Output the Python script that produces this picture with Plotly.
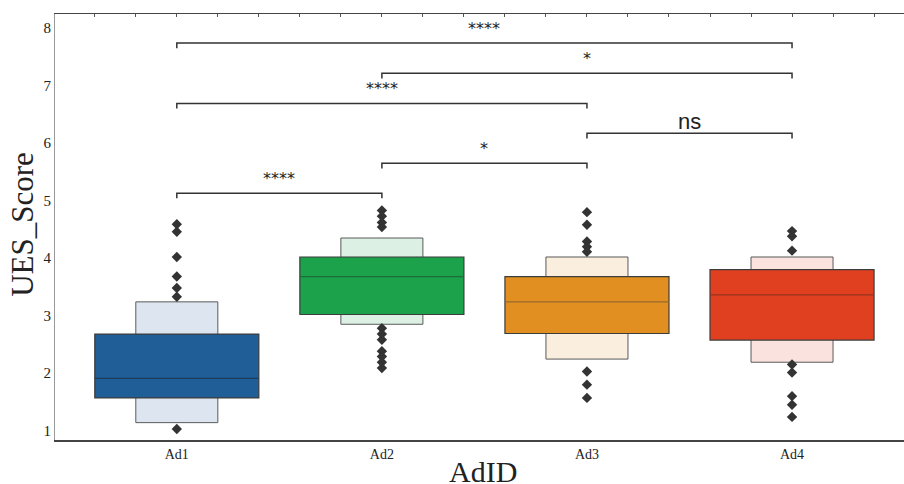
import plotly.graph_objects as go

ads = ["Ad1", "Ad2", "Ad3", "Ad4"]
box_low = [1.57, 3.02, 2.69, 2.575]
box_high = [2.68, 4.02, 3.68, 3.80]
medians = [1.91, 3.68, 3.24, 3.36]
outer_low = [1.14, 2.85, 2.245, 2.19]
outer_high = [3.24, 4.35, 4.02, 4.02]
outliers = [
    [4.59, 4.46, 4.02, 3.68, 3.48, 3.33, 1.03],
    [4.83, 4.73, 4.62, 4.54, 2.78, 2.68, 2.58, 2.38, 2.29, 2.19, 2.09],
    [4.80, 4.58, 4.29, 4.20, 4.11, 2.03, 1.80, 1.57],
    [4.47, 4.38, 4.13, 2.15, 2.01, 1.60, 1.45, 1.24],
]
main_colors = ["#1f5e96", "#1ba24b", "#e08f20", "#e04020"]
light_colors = ["#dde6f0", "#dcf0e4", "#faeedf", "#fae2de"]
median_colors = ["#1d3d5c", "#1f6b3a", "#9a6a2e", "#93331f"]

pairs = [(0, 1), (1, 2), (2, 3), (0, 2), (1, 3), (0, 3)]
bracket_y = [5.13, 5.65, 6.17, 6.69, 7.215, 7.74]
labels = ["****", "*", "ns", "****", "*", "****"]

xpos = list(range(len(ads)))
x_range = [-0.594, 3.546]
fig = go.Figure()

# outer letter-value boxes
fig.add_trace(go.Bar(
    x=xpos, y=[h - l for h, l in zip(outer_high, outer_low)], base=outer_low,
    width=0.4, marker=dict(color=light_colors, line=dict(color="#5a5a5a", width=1)),
    showlegend=False, hoverinfo="skip"))
# main boxes
fig.add_trace(go.Bar(
    x=xpos, y=[h - l for h, l in zip(box_high, box_low)], base=box_low,
    width=0.8, marker=dict(color=main_colors, line=dict(color="#3c3c3c", width=1.2)),
    showlegend=False, hoverinfo="skip"))
# medians
for i, m in enumerate(medians):
    fig.add_trace(go.Scatter(x=[i - 0.4, i + 0.4], y=[m, m], mode="lines",
                             line=dict(color=median_colors[i], width=1.2),
                             showlegend=False, hoverinfo="skip"))
# outliers
for i, vals in enumerate(outliers):
    fig.add_trace(go.Scatter(x=[i] * len(vals), y=vals, mode="markers",
                             marker=dict(symbol="diamond", size=8, color="#333333"),
                             showlegend=False, hoverinfo="skip"))
# significance brackets
leg = 0.09
for (a, b), y, lab in zip(pairs, bracket_y, labels):
    fig.add_trace(go.Scatter(x=[a, a, b, b], y=[y - leg, y, y, y - leg], mode="lines",
                             line=dict(color="#333333", width=1.5),
                             showlegend=False, hoverinfo="skip"))
    if lab == "ns":
        fnt = dict(family="Liberation Sans, Arial, sans-serif", size=22, color="#222222")
        ys = -3
    else:
        fnt = dict(family="DejaVu Sans, sans-serif", size=16, color="#222222")
        ys = 3
    fig.add_annotation(x=(a + b) / 2, y=y, text=lab, showarrow=False,
                       xanchor="center", yanchor="bottom", yshift=ys, font=fnt)

# invisible trace so the top axis (with its fine ticks) is drawn
fig.add_trace(go.Scatter(x=[xpos[0]], y=[medians[0]], xaxis="x2", mode="markers",
                         marker=dict(opacity=0), showlegend=False, hoverinfo="skip"))

# axis titles
fig.add_annotation(text="AdID", xref="paper", yref="paper", x=0.504, y=0,
                   xanchor="center", yanchor="middle", yshift=-31, showarrow=False,
                   font=dict(family="Liberation Serif, serif", size=30, color="#222222"))
fig.add_annotation(text="UES_Score", xref="paper", yref="paper", x=0, y=0.505,
                   xanchor="center", yanchor="middle", xshift=-32, textangle=-90,
                   showarrow=False,
                   font=dict(family="Liberation Serif, serif", size=31, color="#222222"))

fig.update_layout(
    width=904, height=484,
    margin=dict(l=55, r=0, t=14, b=44),
    plot_bgcolor="white", paper_bgcolor="white",
    barmode="overlay",
    font=dict(family="Liberation Serif, Times New Roman, serif", color="#222222"),
    xaxis=dict(range=x_range, tickmode="array", tickvals=xpos, ticktext=ads,
               showgrid=False, zeroline=False, showline=True, linecolor="#444444",
               linewidth=1.5, ticks="", automargin=False,
               tickfont=dict(size=14, color="#222222")),
    xaxis2=dict(overlaying="x", side="top", range=x_range, anchor="y",
                tickmode="linear", tick0=0, dtick=0.2, ticks="inside", ticklen=3,
                tickcolor="#555555", showticklabels=False, showgrid=False,
                zeroline=False, showline=True, linecolor="#444444", linewidth=1.2,
                automargin=False),
    yaxis=dict(range=[0.838, 8.245], tickmode="array", tickvals=list(range(1, 9)),
               showgrid=False, zeroline=False, showline=True, linecolor="#999999",
               linewidth=1.2, ticks="", automargin=False,
               tickfont=dict(size=15, color="#222222")),
)

fig.write_html("out.html", config={"displayModeBar": False},
               post_script="document.body.style.margin='0';document.body.style.overflow='hidden';")
